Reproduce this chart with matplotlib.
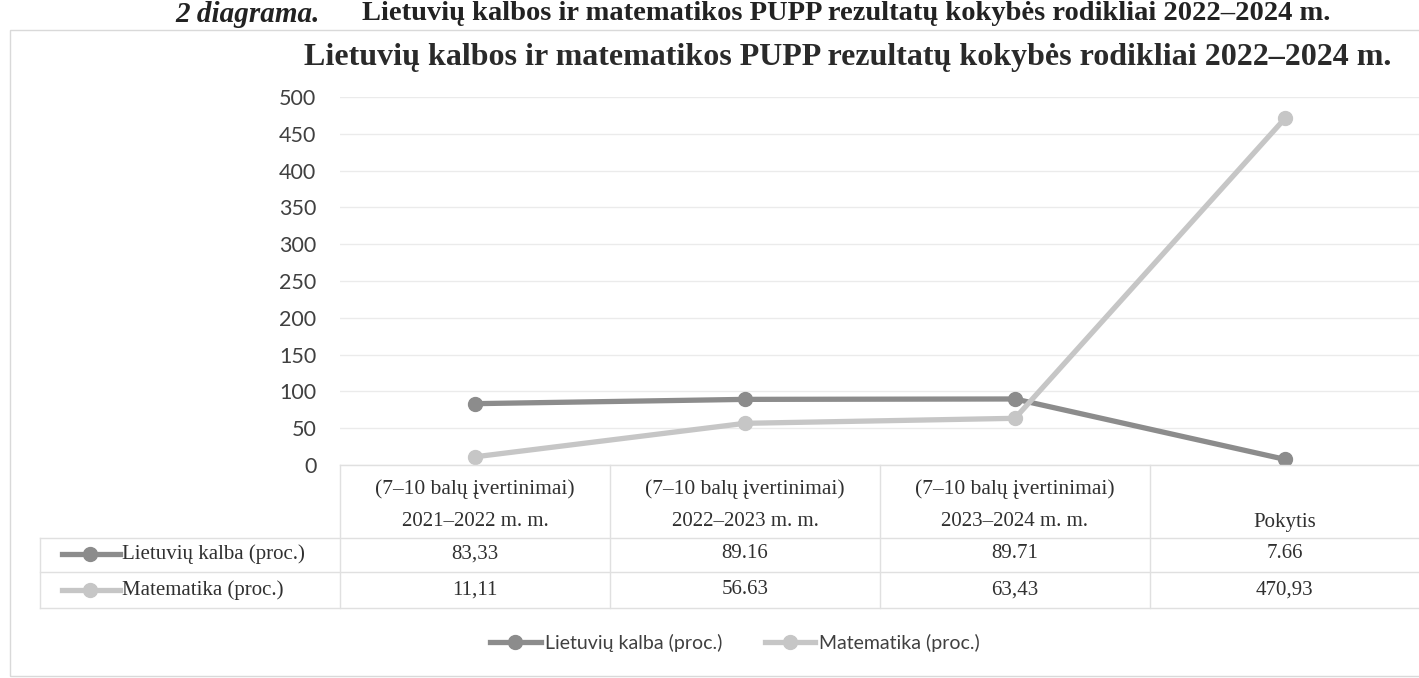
#!/usr/bin/env python3
"""Lietuviu kalbos ir matematikos PUPP rezultatu kokybes rodikliai, line chart with data table."""

import matplotlib
matplotlib.use("Agg")
import matplotlib.pyplot as plt
from matplotlib.lines import Line2D
from matplotlib.patches import Rectangle

# --- data -------------------------------------------------------------
categories = ["0", "1", "2", "3"]
header_top = ["(7\u201310 bal\u0173 \u012fvertinimai)",
              "(7\u201310 bal\u0173 \u012fvertinimai)",
              "(7\u201310 bal\u0173 \u012fvertinimai)",
              ""]
header_bottom = ["2021\u20132022 m. m.", "2022\u20132023 m. m.",
                 "2023\u20132024 m. m.", "Pokytis"]

series_names = ["Lietuvi\u0173 kalba (proc.)", "Matematika (proc.)"]
lietuviu = [83.33, 89.16, 89.71, 7.66]
matematika = [11.11, 56.63, 63.43, 470.93]
lietuviu_labels = ["83,33", "89.16", "89.71", "7.66"]
matematika_labels = ["11,11", "56.63", "63,43", "470,93"]

yticks = [0, 50, 100, 150, 200, 250, 300, 350, 400, 450, 500]

title = "Lietuvi\u0173 kalbos ir matematikos PUPP rezultat\u0173 kokyb\u0117s rodikliai 2022\u20132024 m."

colors = ["#8c8c8c", "#c6c6c6"]

W, H = 1419, 678


def px(x, y):
    return x / W, 1 - y / H


fig = plt.figure(figsize=(W / 100, H / 100), dpi=100)

# outer chart frame
fig.patches.append(Rectangle(px(10, 676), (W + 20) / W, (676 - 30) / H,
                             transform=fig.transFigure, fill=False,
                             edgecolor="#d9d9d9", lw=1))

# caption above the chart
fig.text(*px(175, 1), "2 diagrama.", fontsize=21, fontweight="bold",
         style="italic", family="Liberation Serif", va="top", ha="left",
         color="#222222")
fig.text(*px(362, 1), title, fontsize=20.5, fontweight="bold",
         family="Liberation Serif", va="top", ha="left", color="#222222")

# chart title
fig.text(*px(848, 58), title, fontsize=23, fontweight="bold",
         family="Liberation Serif", va="center", ha="center", color="#2a2a2a")

# plot area
left, bottom = px(340, 465)
right, top = px(1420, 97)
ax = fig.add_axes([left, bottom, right - left, top - bottom])
x = list(range(len(categories)))
for vals, col in zip([lietuviu, matematika], colors):
    ax.plot(x, vals, color=col, lw=3.8, marker="o", markersize=10,
            markerfacecolor=col, markeredgecolor=col, zorder=3)

ax.set_xlim(-0.5, len(categories) - 0.5)
ax.set_ylim(0, 500)
ax.set_yticks(yticks)
ax.set_yticklabels([str(t) for t in yticks], family="Lato", fontsize=15.5,
                   color="#404040")
ax.tick_params(axis="y", length=0, pad=17)
ax.set_xticks([])
ax.grid(axis="y", color="#ebebeb", lw=1)
for s in ax.spines.values():
    s.set_visible(False)
ax.set_facecolor("none")

# data table under the plot
col_edges = [340, 610, 880, 1150, 1419]
line_kw = dict(color="#e0e0e0", lw=1, transform=fig.transFigure)
fig.add_artist(Line2D([px(340, 0)[0], 1], [px(0, 465)[1]] * 2, **line_kw))
for y in [538, 572, 608]:
    fig.add_artist(Line2D([px(40, 0)[0], 1], [px(0, y)[1]] * 2, **line_kw))
for xe in col_edges[:-1]:
    fig.add_artist(Line2D([px(xe, 0)[0]] * 2, [px(0, 465)[1], px(0, 608)[1]],
                          **line_kw))
fig.add_artist(Line2D([px(40, 0)[0]] * 2, [px(0, 538)[1], px(0, 608)[1]],
                      **line_kw))

serif = dict(family="Liberation Serif", fontsize=15, color="#303030",
             ha="center", va="center")
for i in range(len(categories)):
    cx = (col_edges[i] + col_edges[i + 1]) / 2
    if header_top[i]:
        fig.text(*px(cx, 489), header_top[i],
                 **{**serif, "fontsize": 15.5})
    fig.text(*px(cx, 522), header_bottom[i], **serif)
    fig.text(*px(cx, 554), lietuviu_labels[i], **serif)
    fig.text(*px(cx, 590), matematika_labels[i], **serif)

# legend keys inside table rows
for name, col, y in zip(series_names, colors, [554, 590]):
    fig.add_artist(Line2D([px(62, 0)[0], px(120, 0)[0]], [px(0, y)[1]] * 2,
                          color=col, lw=3.8, transform=fig.transFigure))
    fig.add_artist(Line2D([px(90, 0)[0]], [px(0, y)[1]], color=col,
                          marker="o", markersize=10, lw=0,
                          transform=fig.transFigure))
    fig.text(*px(122, y), name, family="Liberation Serif", fontsize=15,
             color="#303030", ha="left", va="center")

# bottom legend
handles = [Line2D([], [], color=c, lw=3.8, marker="o", markersize=10)
           for c in colors]
fig.legend(handles, series_names, loc="center", bbox_to_anchor=px(735, 643),
           ncol=2, frameon=False, prop={"family": "Lato", "size": 14},
           handlelength=2.6, handletextpad=0.2, columnspacing=2.2,
           labelcolor="#404040")

fig.savefig("out.png", dpi=100)
